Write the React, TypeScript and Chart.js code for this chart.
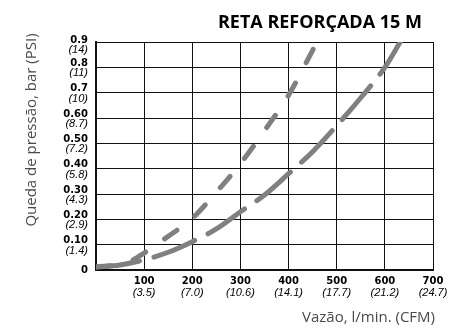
import React, { useEffect, useRef } from "react";
import { Chart, registerables } from "chart.js";

Chart.register(...registerables);

// ---- data ----
const steepFlow = [0, 50, 70, 100, 150, 200, 250, 300, 350, 400, 459];
const steepDrop = [0.012, 0.022, 0.033, 0.067, 0.133, 0.204, 0.307, 0.42, 0.55, 0.69, 0.9];

const gentleFlow = [0, 50, 100, 150, 200, 250, 300, 350, 400, 450, 500, 550, 600, 632];
const gentleDrop = [0.012, 0.02, 0.04, 0.07, 0.112, 0.162, 0.23, 0.296, 0.38, 0.467, 0.57, 0.68, 0.8, 0.9];

const yTickValues = [0, 0.1, 0.2, 0.3, 0.4, 0.5, 0.6, 0.7, 0.8, 0.9];
const yTickBar = ["0", "0.10", "0.20", "0.30", "0.40", "0.50", "0.60", "0.7", "0.8", "0.9"];
const yTickPsi = ["", "(1.4)", "(2.9)", "(4.3)", "(5.8)", "(7.2)", "(8.7)", "(10)", "(11)", "(14)"];

const xTickValues = [100, 200, 300, 400, 500, 600, 700];
const xTickLpm = ["100", "200", "300", "400", "500", "600", "700"];
const xTickCfm = ["(3.5)", "(7.0)", "(10.6)", "(14.1)", "(17.7)", "(21.2)", "(24.7)"];

const titleText = "RETA REFORÇADA 15 M";
const yTitle = "Queda de pressão, bar (PSI)";
const xTitle = "Vazão, l/min. (CFM)";

const labelPlugin = {
  id: "labels",
  afterDraw(chart: any) {
    const ctx = chart.ctx as CanvasRenderingContext2D;
    const xs = chart.scales.x;
    const ys = chart.scales.y;
    const area = chart.chartArea;
    ctx.save();
    ctx.fillStyle = "#000";
    // y tick labels
    ctx.textAlign = "right";
    ctx.textBaseline = "middle";
    yTickValues.forEach((v, i) => {
      const py = ys.getPixelForValue(v);
      if (!yTickPsi[i]) {
        ctx.font = "bold 10px 'DejaVu Sans'";
        ctx.fillText(yTickBar[i], area.left - 8, py);
        return;
      }
      const top = i === yTickValues.length - 1 ? py - 2 : py - 4;
      ctx.font = "bold 10px 'DejaVu Sans'";
      ctx.fillText(yTickBar[i], area.left - 8, top);
      ctx.font = "italic 11px 'Liberation Sans'";
      ctx.fillText(yTickPsi[i], area.left - 8, top + 10);
    });
    // x tick labels
    ctx.textAlign = "center";
    xTickValues.forEach((v, i) => {
      const px = xs.getPixelForValue(v);
      ctx.font = "bold 10px 'DejaVu Sans'";
      ctx.fillText(xTickLpm[i], px, area.bottom + 11);
      ctx.font = "italic 11px 'Liberation Sans'";
      ctx.fillText(xTickCfm[i], px, area.bottom + 23);
    });
    // chart title
    ctx.font = "bold 18px 'Open Sans'";
    ctx.textAlign = "right";
    ctx.textBaseline = "alphabetic";
    ctx.fillText(titleText, 422, 28);
    // axis titles
    ctx.fillStyle = "#4a4a4a";
    ctx.font = "15px 'Open Sans'";
    ctx.textAlign = "right";
    ctx.textBaseline = "middle";
    ctx.fillText(xTitle, 435, 318);
    ctx.translate(32, 130);
    ctx.rotate(-Math.PI / 2);
    ctx.textAlign = "center";
    ctx.fillText(yTitle, 0, 0);
    ctx.restore();
  },
};

export default function App() {
  const ref = useRef<HTMLCanvasElement | null>(null);
  useEffect(() => {
    if (!ref.current) return;
    const chart = new Chart(ref.current, {
      type: "line",
      data: {
        datasets: [
          {
            data: steepFlow.map((x, i) => ({ x, y: steepDrop[i] })),
            borderColor: "#808080",
            borderWidth: 5,
            borderDash: [15, 23],
            borderCapStyle: "round",
            pointRadius: 0,
            cubicInterpolationMode: "monotone",
            fill: false,
          },
          {
            data: gentleFlow.map((x, i) => ({ x, y: gentleDrop[i] })),
            borderColor: "#808080",
            borderWidth: 5,
            borderDash: [44, 15],
            borderCapStyle: "round",
            pointRadius: 0,
            cubicInterpolationMode: "monotone",
            fill: false,
          },
        ],
      },
      options: {
        animation: false,
        responsive: false,
        layout: { padding: { left: 96, top: 42, right: 26, bottom: 59 } },
        plugins: { legend: { display: false }, title: { display: false }, tooltip: { enabled: false } },
        scales: {
          x: {
            type: "linear",
            min: 0,
            max: 700,
            ticks: { display: false, stepSize: 100 },
            grid: { color: "#111", lineWidth: 1, drawTicks: false, tickLength: 0 },
            border: { color: "#111", width: 2 },
            afterFit: (s: any) => {
              s.height = 0;
            },
          },
          y: {
            type: "linear",
            min: 0,
            max: 0.9,
            ticks: { display: false, stepSize: 0.1 },
            grid: { color: "#111", lineWidth: 1, drawTicks: false, tickLength: 0 },
            border: { color: "#111", width: 2 },
            afterFit: (s: any) => {
              s.width = 0;
            },
          },
        },
      },
      plugins: [labelPlugin],
    });
    return () => chart.destroy();
  }, []);
  return (
    <div style={{ position: "fixed", left: 0, top: 0, width: 459, height: 329, background: "#fff" }}>
      <canvas ref={ref} width={459} height={329} />
    </div>
  );
}
